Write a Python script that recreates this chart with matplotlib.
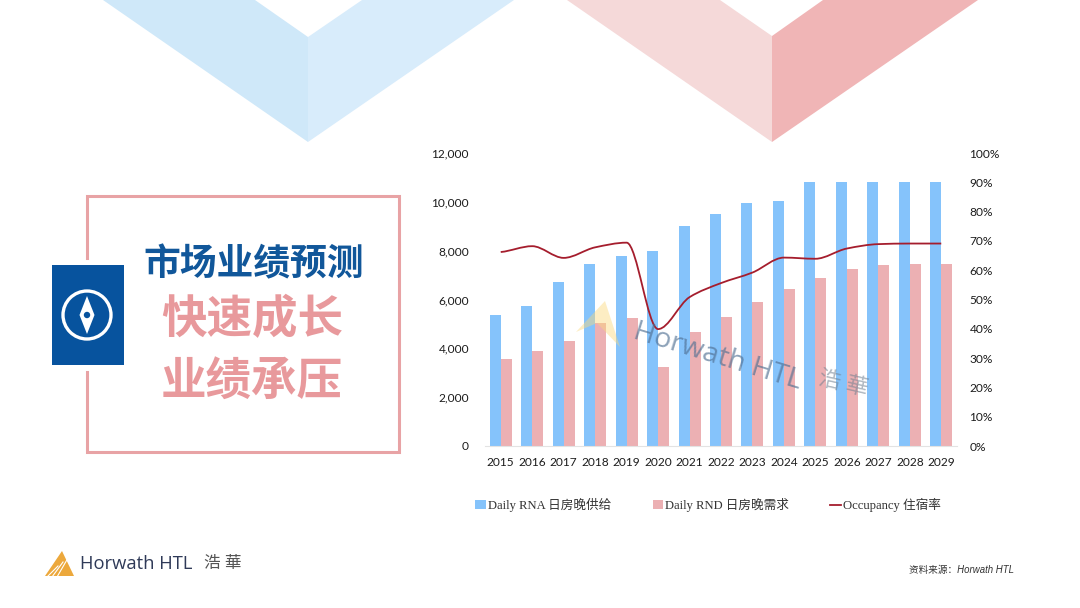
import matplotlib
matplotlib.use('Agg')
import matplotlib.pyplot as plt
from matplotlib.patches import Polygon, Rectangle, Circle, PathPatch, Patch
from matplotlib.lines import Line2D
from matplotlib.path import Path
import numpy as np

plt.rcParams['font.family'] = ['Lato', 'Noto Sans CJK SC', 'DejaVu Sans']

years = ['2015', '2016', '2017', '2018', '2019', '2020', '2021', '2022',
         '2023', '2024', '2025', '2026', '2027', '2028', '2029']
rna = [5370, 5750, 6700, 7440, 7780, 8000, 9000, 9520, 9970, 10020, 10800, 10800, 10800, 10800, 10800]
rnd = [3550, 3900, 4300, 5040, 5230, 3220, 4670, 5300, 5900, 6430, 6880, 7250, 7430, 7440, 7440]
occupancy = [66.2, 68.2, 64.2, 67.8, 69.4, 39.9, 50.8, 55.6, 59.2, 64.3, 63.9, 67.4, 68.9, 69.1, 69.1]
left_ticks = [0, 2000, 4000, 6000, 8000, 10000, 12000]
right_ticks = [0, 10, 20, 30, 40, 50, 60, 70, 80, 90, 100]

BLUE = '#85c3fb'
PINK = '#ecb0b3'
RED = '#a51d2d'
FRAME = '#e8a3a5'
NAVY = '#07539e'
W, H = 1080, 608

fig = plt.figure(figsize=(10.8, 6.08), dpi=100, facecolor='white')

def pixel_axes(zorder):
    a = fig.add_axes([0, 0, 1, 1], zorder=zorder)
    a.set_xlim(0, W)
    a.set_ylim(H, 0)
    a.axis('off')
    a.patch.set_alpha(0)
    return a

# background chevrons
bg = pixel_axes(0)
bg.add_patch(Polygon([(103, 0), (308, 142), (308, 37), (255, 0)], fc='#cfe8f9', ec='none'))
bg.add_patch(Polygon([(514, 0), (308, 142), (308, 37), (362, 0)], fc='#d8ecfb', ec='none'))
bg.add_patch(Polygon([(567, 0), (772, 142), (772, 36), (720, 0)], fc='#f5d9d9', ec='none'))
bg.add_patch(Polygon([(978, 0), (772, 142), (772, 36), (823, 0)], fc='#f0b5b6', ec='none'))

# left title box
lw_frame = 2.2
bg.plot([87, 87, 399, 399, 87, 87], [258, 196, 196, 452, 452, 372], color=FRAME, lw=lw_frame, solid_joinstyle='miter')
bg.add_patch(Rectangle((51.5, 265), 72, 100, fc=NAVY, ec='none'))
bg.add_patch(Circle((87, 315), 24, fc='none', ec='white', lw=2.4))
bg.add_patch(Polygon([(87, 296), (94.5, 315), (87, 334), (79.5, 315)], fc='white', ec='none'))
bg.add_patch(Circle((87, 315), 3.2, fc=NAVY, ec='none'))
bg.text(253.5, 264, '市场业绩预测', fontsize=26.5, color='#11579a', fontweight='bold', ha='center', va='center')
bg.text(252, 319, '快速成长', fontsize=32.8, color='#e8999c', fontweight='bold', ha='center', va='center')
bg.text(252, 381, '业绩承压', fontsize=32.8, color='#e8999c', fontweight='bold', ha='center', va='center')

# footer logo
bg.add_patch(Polygon([(62, 551), (74, 576), (45, 576)], fc='#eca83c', ec='none'))
for x0 in (52, 57, 62):
    bg.plot([x0 + 6, x0 - 5], [558 + (62 - x0) * 0.8, 577], color='white', lw=0.8)
bg.text(80, 564, 'Horwath HTL', fontsize=13.2, color='#2f3a58', family=['Open Sans', 'DejaVu Sans'],
        ha='left', va='center')
bg.text(204, 563, '浩 華', fontsize=12, color='#555555', ha='left', va='center')
bg.text(909, 570.5, '资料来源：Horwath HTL', fontsize=6.9, color='#333333', style='italic',
        family=['Liberation Sans', 'Noto Sans CJK SC'], ha='left', va='center')

# chart
ax = fig.add_axes([485 / W, 1 - 446 / H, (957 - 485) / W, (446 - 153) / H], zorder=1)
ax.patch.set_alpha(0)
x = np.arange(len(years))
bar_w = 0.35
ax.bar(x - bar_w / 2, rna, bar_w, color=BLUE)
ax.bar(x + bar_w / 2, rnd, bar_w, color=PINK)
ax.set_xlim(-0.5, 14.5)
ax.set_ylim(0, 12000)
ax.set_xticks(x)
ax.set_xticklabels(years)
ax.set_yticks(left_ticks)
ax.set_yticklabels([f'{v:,}' for v in left_ticks])
ax.tick_params(axis='x', length=0, pad=8, labelsize=8.6, labelcolor='#1c1c1c')
ax.tick_params(axis='y', length=0, pad=11.5, labelsize=8.6, labelcolor='#1c1c1c')
for s in ('top', 'left', 'right'):
    ax.spines[s].set_visible(False)
ax.spines['bottom'].set_color('#e3e3e3')
ax.spines['bottom'].set_linewidth(0.8)

ax2 = ax.twinx()
ax2.set_ylim(0, 100)
ax2.set_yticks(right_ticks)
ax2.set_yticklabels([f'{v}%' for v in right_ticks])
ax2.tick_params(axis='y', length=0, pad=9, labelsize=8.6, labelcolor='#1c1c1c')
for s in ('top', 'left', 'right', 'bottom'):
    ax2.spines[s].set_visible(False)

# smoothed line, bezier segments through the points, flat at the turning points so it does not overshoot
occ = np.array(occupancy)
d = np.diff(occ)
m = np.zeros(len(occ))
for i in range(1, len(occ) - 1):
    if d[i - 1] * d[i] > 0:
        m[i] = 2 * d[i - 1] * d[i] / (d[i - 1] + d[i])
m[0] = d[0] / 2
m[-1] = d[-1] / 2
verts = [(x[0], occ[0])]
codes = [Path.MOVETO]
for i in range(len(occ) - 1):
    verts.append((x[i] + 1 / 3, occ[i] + m[i] / 3))
    verts.append((x[i + 1] - 1 / 3, occ[i + 1] - m[i + 1] / 3))
    verts.append((x[i + 1], occ[i + 1]))
    codes += [Path.CURVE4] * 3
ax2.add_patch(PathPatch(Path(verts, codes), fc='none', ec=RED, lw=1.3))

# legend
handles = [Patch(fc=BLUE, ec='none'), Patch(fc=PINK, ec='none'), Line2D([], [], color=RED, lw=1.3)]
labels = ['Daily RNA 日房晚供给', 'Daily RND 日房晚需求', 'Occupancy 住宿率']
fig.legend(handles, labels, ncol=3, loc='center left', bbox_to_anchor=(464 / W, 1 - 505 / H), frameon=False,
           handlelength=0.85, handleheight=0.7, handletextpad=0.12, columnspacing=3.3,
           prop={'family': ['Liberation Serif', 'Noto Sans CJK SC'], 'size': 9.1}, labelcolor='#333333')

# watermark on top of the chart
top = pixel_axes(5)
top.add_patch(Polygon([(605, 301), (620, 347), (597, 323), (576, 332)], fc='#fbd97a', ec='none', alpha=0.45))
top.text(634, 331, 'Horwath HTL', fontsize=20.5, color='#4f6f92', family=['Open Sans', 'DejaVu Sans'], alpha=0.65,
         rotation=-17, rotation_mode='anchor', ha='left', va='center')
top.text(843, 384, '浩 華', fontsize=16, color='#6f7f8f', alpha=0.55, rotation=-13, ha='center', va='center')

plt.savefig('out.png', dpi=100)
